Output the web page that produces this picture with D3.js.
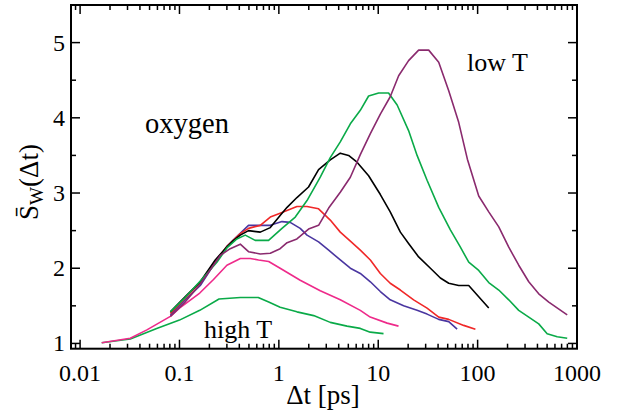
<!DOCTYPE html>
<html><head><meta charset="utf-8">
<script src="https://cdn.jsdelivr.net/npm/d3@7"></script>
<style>html,body{margin:0;padding:0;background:#fff;}svg{display:block;} text{font-family:"Times New Roman",serif;}</style>
</head><body>
<svg id="c" width="620" height="415"></svg>
<script>
// ---- data ----
const xTickValues = [0.01, 0.1, 1, 10, 100, 1000];
const xTickLabels = ["0.01", "0.1", "1", "10", "100", "1000"];
const yTickValues = [1, 2, 3, 4, 5];
const yTickLabels = ["1", "2", "3", "4", "5"];

const gHighX = [0.0165,0.032,0.059,0.10,0.16,0.25,0.41,0.62,0.79,1.03,1.52,2.24,3.29,4.85,6.6,8.3,11.3];
const gHighY = [1.01,1.06,1.20,1.31,1.44,1.59,1.61,1.61,1.55,1.48,1.42,1.37,1.28,1.23,1.20,1.15,1.13];

const pinkX = [0.0165,0.032,0.047,0.081,0.10,0.16,0.22,0.30,0.41,0.515,0.625,0.79,1.03,1.64,2.61,4.15,6.6,8.3,12.3,16.0];
const pinkY = [1.01,1.07,1.18,1.36,1.47,1.67,1.85,2.04,2.13,2.13,2.11,2.09,2.00,1.84,1.70,1.58,1.44,1.35,1.27,1.23];

const blueX = [0.081,0.114,0.162,0.229,0.30,0.378,0.495,0.625,0.82,1.075,1.30,1.64,1.92,2.51,3.17,4.15,5.24,6.6,8.33,10.5,13.2,18.0,24.6,31.0,40.6,51.2,62.2];
const blueY = [1.38,1.58,1.77,2.08,2.29,2.42,2.57,2.57,2.57,2.62,2.61,2.53,2.44,2.35,2.24,2.11,2.00,1.93,1.82,1.69,1.58,1.50,1.44,1.39,1.32,1.29,1.19];

const redX = [0.081,0.114,0.162,0.229,0.30,0.409,0.495,0.65,0.82,1.03,1.52,1.92,2.51,3.29,4.15,5.24,6.6,8.33,10.5,13.2,16.7,22.7,31.0,40.6,51.2,72.4,95.0];
const redY = [1.40,1.60,1.81,2.09,2.29,2.46,2.53,2.57,2.68,2.73,2.82,2.82,2.79,2.64,2.48,2.36,2.24,2.11,1.93,1.80,1.71,1.58,1.47,1.35,1.32,1.24,1.19];

const blackX = [0.081,0.114,0.162,0.229,0.289,0.350,0.409,0.495,0.65,0.82,1.03,1.21,1.52,1.99,2.51,3.29,4.15,5.03,6.12,8.0,10.5,13.2,16.7,20.2,25.5,33.5,42.2,51.2,64.5,81.4,102.6,129.4];
const blackY = [1.42,1.62,1.82,2.11,2.26,2.37,2.44,2.50,2.48,2.54,2.70,2.81,2.94,3.08,3.31,3.44,3.53,3.50,3.41,3.23,2.98,2.75,2.48,2.33,2.15,2.00,1.87,1.80,1.77,1.77,1.62,1.47];

const green2X = [0.081,0.114,0.162,0.238,0.30,0.378,0.459,0.578,0.788,1.075,1.463,1.92,2.61,3.29,4.15,5.24,6.6,8.0,10.1,12.7,15.5,20.2,24.6,31.0,40.6,53.2,67.1,81.4,102.6,129.4,163.2,205.7,259.3,327,412,501,632,797];
const green2Y = [1.42,1.61,1.83,2.08,2.27,2.39,2.44,2.37,2.37,2.53,2.68,2.90,3.21,3.47,3.68,3.92,4.10,4.29,4.33,4.33,4.17,3.83,3.50,3.17,2.81,2.51,2.28,2.08,1.97,1.81,1.71,1.58,1.44,1.35,1.26,1.13,1.09,1.07];

const purpleX = [0.081,0.114,0.162,0.257,0.324,0.409,0.495,0.65,0.82,1.03,1.21,1.52,1.99,2.51,3.17,4.15,5.24,6.6,8.33,10.5,13.2,16.05,20.2,25.5,32.2,40.6,51.2,64.5,78.9,102.6,129.4,163.2,205.7,259.3,327,412,520,797];
const purpleY = [1.36,1.55,1.79,2.17,2.26,2.32,2.22,2.19,2.20,2.26,2.34,2.39,2.52,2.57,2.80,3.01,3.21,3.51,3.79,4.05,4.28,4.56,4.76,4.90,4.90,4.74,4.36,3.94,3.45,2.96,2.75,2.55,2.28,2.04,1.82,1.66,1.55,1.38];

const seriesNames = ["highT","pink","blue","red","black","green2","purple"];
const seriesX = [gHighX, pinkX, blueX, redX, blackX, green2X, purpleX];
const seriesY = [gHighY, pinkY, blueY, redY, blackY, green2Y, purpleY];
const seriesColors = ["#0aaa48","#ee2a8a","#4a36a0","#f02828","#000000","#0aaa48","#8a2a6e"];

// ---- layout ----
const L = 71, R = 577, T = 5, B = 348.7;
const svg = d3.select("#c");
const x = d3.scaleLog().domain([0.0081, 1000]).range([L, R]);
const y = d3.scaleLinear().domain([0.93, 5.5]).range([B, T]);

// ---- curves ----
const line = d3.line().x(d => x(d[0])).y(d => y(d[1]));
seriesX.forEach((xs, i) => {
  const pts = xs.map((v, j) => [v, seriesY[i][j]]);
  svg.append("path").attr("d", line(pts)).attr("fill", "none")
     .attr("stroke", seriesColors[i]).attr("stroke-width", 1.6)
     .attr("stroke-linejoin", "round");
});

// ---- ticks (inward on all four sides) ----
const minorX = [];
for (let e = -3; e <= 2; e++) for (let k = 2; k <= 9; k++) {
  const v = k * Math.pow(10, e);
  if (v >= x.domain()[0] && v <= x.domain()[1]) minorX.push(v);
}
const majorX = xTickValues.filter(v => v >= x.domain()[0]);
const minorY = [1.5, 2.5, 3.5, 4.5];
const tk = svg.append("g").attr("stroke", "#000").attr("stroke-width", 1.5);
function tickX(v, len) {
  tk.append("line").attr("x1", x(v)).attr("x2", x(v)).attr("y1", B).attr("y2", B - len);
  tk.append("line").attr("x1", x(v)).attr("x2", x(v)).attr("y1", T).attr("y2", T + len);
}
function tickY(v, len) {
  tk.append("line").attr("y1", y(v)).attr("y2", y(v)).attr("x1", L).attr("x2", L + len);
  tk.append("line").attr("y1", y(v)).attr("y2", y(v)).attr("x1", R).attr("x2", R - len);
}
majorX.forEach(v => tickX(v, 9));
minorX.forEach(v => tickX(v, 5));
yTickValues.forEach(v => tickY(v, 9));
minorY.forEach(v => tickY(v, 5));

// frame
svg.append("rect").attr("x", L).attr("y", T).attr("width", R - L).attr("height", B - T)
   .attr("fill", "none").attr("stroke", "#000").attr("stroke-width", 2);

// ---- tick labels ----
svg.append("g").selectAll("text").data(xTickValues).join("text")
  .attr("x", d => x(d)).attr("y", 381).attr("text-anchor", "middle")
  .attr("font-size", 24)
  .text((d, i) => xTickLabels[i]);
svg.append("g").selectAll("text").data(yTickValues).join("text")
  .attr("x", 65).attr("y", d => y(d) + 8).attr("text-anchor", "end")
  .attr("font-size", 24)
  .text((d, i) => yTickLabels[i]);

// ---- axis titles ----
svg.append("text").attr("x", 323).attr("y", 404).attr("text-anchor", "middle")
  .attr("font-size", 27).text("\u0394t [ps]");

const yt = svg.append("text").attr("transform", "translate(38,182) rotate(-90)")
  .attr("text-anchor", "middle").attr("font-size", 27);
yt.append("tspan").text("S\u0304");
yt.append("tspan").attr("font-size", 19).attr("dy", 5).text("W");
yt.append("tspan").attr("dy", -5).text("(\u0394t)");

// ---- annotations ----
svg.append("text").attr("x", 145).attr("y", 132.5).attr("font-size", 28.5).text("oxygen");
svg.append("text").attr("x", 467).attr("y", 71).attr("font-size", 26).text("low T");
svg.append("text").attr("x", 204).attr("y", 338).attr("font-size", 26).text("high T");
</script>
</body></html>
